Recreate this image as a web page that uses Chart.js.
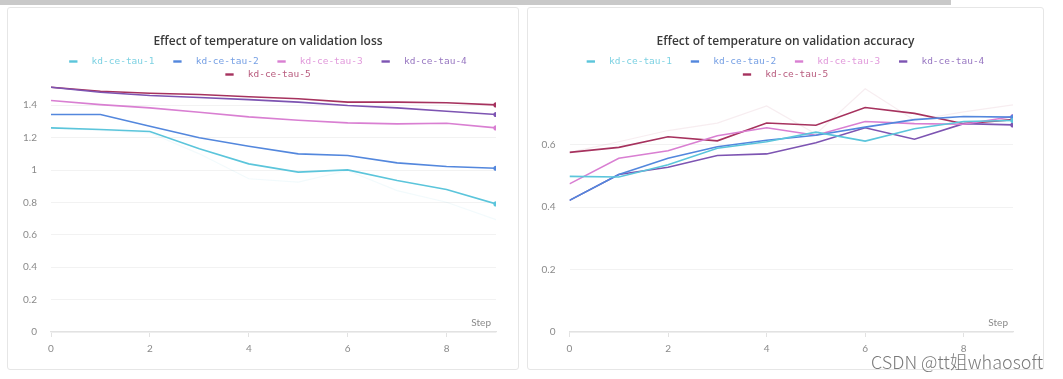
<!DOCTYPE html>
<html><head><meta charset="utf-8">
<script src="https://cdn.jsdelivr.net/npm/chart.js@4/dist/chart.umd.min.js"></script>
<style>
html,body{margin:0;padding:0;background:#fff}
body{width:1063px;height:379px;position:relative;overflow:hidden}
#bar{position:absolute;left:0;top:0;width:951px;height:5px;background:#c9c9c9}
.panel{position:absolute;top:7px;height:363px;border:1px solid #e6e6e6;border-radius:3px;box-sizing:border-box}
#p1{left:7px;width:512px}
#p2{left:527px;width:517px}
canvas{position:absolute;top:0}
#c1{left:0}
#c2{left:522px}
#wm{position:absolute;left:871px;top:348px;font:300 18px 'Noto Sans CJK SC';color:#7a7a7a;white-space:nowrap}
</style>
</head><body>
<div id="bar"></div>
<div class="panel" id="p1"></div>
<div class="panel" id="p2"></div>
<canvas id="c1" width="522" height="379"></canvas>
<canvas id="c2" width="541" height="379"></canvas>
<div id="wm">CSDN @tt姐whaosoft</div>
<script>
// ---- data ----
const steps = [0,1,2,3,4,5,6,7,8,9];
const seriesNames = ['kd-ce-tau-1','kd-ce-tau-2','kd-ce-tau-3','kd-ce-tau-4','kd-ce-tau-5'];
const seriesColors = ['#5bc5db','#5387dd','#d97fd2','#7d54b2','#a6325e'];

const lossTau1 = [1.260,1.250,1.238,1.131,1.038,0.987,1.001,0.935,0.880,0.791];
const lossTau2 = [1.343,1.343,1.270,1.199,1.147,1.100,1.090,1.044,1.022,1.011];
const lossTau3 = [1.429,1.404,1.384,1.357,1.328,1.307,1.291,1.285,1.289,1.260];
const lossTau4 = [1.511,1.480,1.460,1.448,1.435,1.419,1.398,1.384,1.363,1.343];
const lossTau5 = [1.511,1.486,1.474,1.466,1.452,1.440,1.419,1.419,1.415,1.402];
const lossTau1Raw = [1.260,1.245,1.230,1.100,0.946,0.925,0.997,0.873,0.801,0.694];

const accTau1 = [0.499,0.497,0.536,0.589,0.610,0.641,0.612,0.652,0.675,0.678];
const accTau2 = [0.422,0.505,0.557,0.594,0.615,0.631,0.657,0.681,0.691,0.689];
const accTau3 = [0.475,0.557,0.581,0.629,0.655,0.631,0.675,0.668,0.666,0.691];
const accTau4 = [0.422,0.505,0.528,0.566,0.571,0.607,0.655,0.618,0.668,0.664];
const accTau5 = [0.576,0.592,0.626,0.613,0.670,0.663,0.720,0.701,0.668,0.681];
const accTau5Raw = [0.576,0.610,0.646,0.670,0.725,0.635,0.780,0.679,0.706,0.728];

const lossTitle = 'Effect of temperature on validation loss';
const accTitle = 'Effect of temperature on validation accuracy';
const xTitle = 'Step';

// ---- helpers ----
function pts(vals){ return steps.map((s,i)=>({x:s,y:vals[i]})); }
function hexA(hex,a){const n=parseInt(hex.slice(1),16);return `rgba(${n>>16},${(n>>8)&255},${n&255},${a})`;}
function mainSet(i, vals){
  return {label:seriesNames[i], data:pts(vals), borderColor:seriesColors[i], backgroundColor:seriesColors[i],
    borderWidth:1.6, tension:0, fill:false,
    pointRadius:(c)=>c.dataIndex===steps.length-1?2.6:0, pointHoverRadius:0, pointBorderWidth:0};
}
function rawSet(i, vals, a){
  return {label:seriesNames[i]+' raw', raw:true, data:pts(vals), borderColor:hexA(seriesColors[i],a),
    borderWidth:1.2, tension:0, fill:false, pointRadius:0, order:10};
}

const decor = {
  id:'decor',
  afterDraw(chart, args, o){
    const ctx = chart.ctx, ca = chart.chartArea;
    ctx.save();
    ctx.fillStyle = '#3a3a3a';
    ctx.font = '600 12px "Open Sans"';
    ctx.textAlign = 'center'; ctx.textBaseline = 'middle';
    ctx.fillText(o.title, o.cx, 42);
    ctx.font = '9.5px "DejaVu Sans Mono"';
    const items = chart.data.datasets.filter(d=>!d.raw);
    const gap = 18.8, dashW = 8.3, textOff = 22.4, maxRow = 420;
    const rows = [[]]; let w = 0;
    items.forEach(d=>{
      const iw = textOff + ctx.measureText(d.label).width;
      const cur = rows[rows.length-1];
      const add = (cur.length? gap:0) + iw;
      if (w + add > maxRow && cur.length){ rows.push([{d,iw}]); w = iw; }
      else { cur.push({d,iw}); w += add; }
    });
    rows.forEach((row, r)=>{
      const total = row.reduce((a,b)=>a+b.iw,0) + gap*(row.length-1);
      let x = o.cx - total/2; const y = 61.5 + r*13;
      row.forEach(it=>{
        ctx.fillStyle = it.d.borderColor;
        ctx.fillRect(x, y-1.2, dashW, 2.4);
        ctx.globalAlpha = 0.8;
        ctx.textAlign = 'left';
        ctx.fillText(it.d.label, x + textOff, y+0.5);
        ctx.globalAlpha = 1;
        x += it.iw + gap;
      });
    });
    ctx.font = '10px Lato';
    ctx.fillStyle = '#8a8a8a';
    ctx.textAlign = 'right'; ctx.textBaseline = 'middle';
    ctx.fillText(xTitle, ca.right - 5, ca.bottom - 9);
    ctx.restore();
  }
};

function makeChart(id, sets, ymax, yW, rightPad, title, cx){
  return new Chart(document.getElementById(id), {
    type:'line',
    data:{datasets:sets},
    options:{
      responsive:false, animation:false, events:[],
      layout:{padding:{top:85,right:rightPad,left:0,bottom:0}},
      plugins:{legend:{display:false}, tooltip:{enabled:false}, decor:{title, cx}},
      scales:{
        x:{type:'linear', min:0, max:9,
          afterBuildTicks:s=>{s.ticks=s.ticks.filter(t=>t.value%2===0);},
          afterFit:s=>{s.height=47;},
          ticks:{stepSize:2, color:'#8a8a8a', font:{family:'Lato',size:10}, padding:6, maxRotation:0,
            callback:v=>String(v)},
          grid:{drawOnChartArea:false, drawTicks:true, tickLength:5, color:'#e2e2e2'},
          border:{display:true, color:'#e2e2e2', width:1.2}
        },
        y:{type:'linear', min:0, max:ymax,
          afterBuildTicks:s=>{s.ticks=s.ticks.filter(t=>Math.abs(t.value/0.2-Math.round(t.value/0.2))<1e-6);},
          afterFit:s=>{s.width=yW;},
          ticks:{stepSize:0.2, color:'#8a8a8a', font:{family:'Lato',size:10}, padding:14,
            callback:v=>String(+v.toFixed(2))},
          grid:{drawTicks:false, color:'#f2f2f2'},
          border:{display:false}
        }
      }
    },
    plugins:[decor]
  });
}

const lossVals = [lossTau1,lossTau2,lossTau3,lossTau4,lossTau5];
const accVals = [accTau1,accTau2,accTau3,accTau4,accTau5];
makeChart('c1', [rawSet(0,lossTau1Raw,0.08), ...lossVals.map((v,i)=>mainSet(i,v))], 1.525, 51, 26, lossTitle, 268);
makeChart('c2', [rawSet(4,accTau5Raw,0.09), ...accVals.map((v,i)=>mainSet(i,v))], 0.792, 47.5, 50, accTitle, 263.5);
</script>
</body></html>
